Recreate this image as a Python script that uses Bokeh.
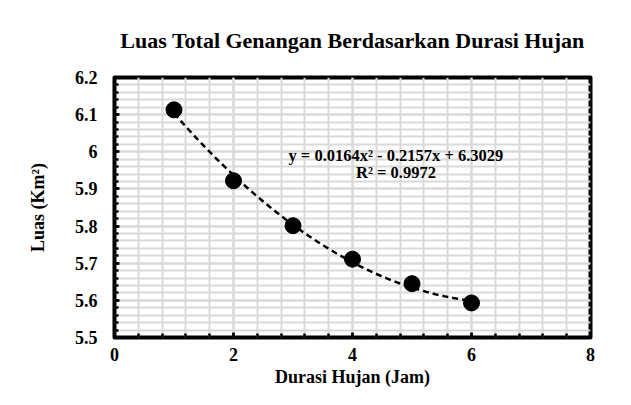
import numpy as np
from bokeh.plotting import figure
from bokeh.models import FixedTicker, Label
from bokeh.embed import file_html
from bokeh.resources import INLINE

# Data
durasi = [1, 2, 3, 4, 5, 6]
luas = [6.113, 5.922, 5.801, 5.711, 5.645, 5.593]
# Excel polynomial trendline (order 2) coefficients from the label
coef = [0.0164, -0.2157, 6.3029]
eq_text = "y = 0.0164x\u00b2 - 0.2157x + 6.3029"
r2_text = "R\u00b2 = 0.9972"

x_ticks = [0, 2, 4, 6, 8]
y_ticks = [5.5, 5.6, 5.7, 5.8, 5.9, 6.0, 6.1, 6.2]
y_tick_labels = ["5.5", "5.6", "5.7", "5.8", "5.9", "6", "6.1", "6.2"]
x_title = "Durasi Hujan (Jam)"
y_title = "Luas (Km\u00b2)"

FONT = "Liberation Serif"

p = figure(width=615, height=389, output_backend="svg", toolbar_location=None,
           x_range=(0, 8), y_range=(5.5, 6.2),
           min_border_left=114, min_border_right=25, min_border_top=77, min_border_bottom=50)

p.title.text = "Luas Total Genangan Berdasarkan Durasi Hujan"
p.title.align = "center"
p.title.text_font = FONT
p.title.text_font_size = "22px"
p.title.text_font_style = "bold"
p.title.text_color = "black"
p.title.standoff = 50

p.outline_line_color = "black"
p.outline_line_width = 4
p.outline_line_join = "round"
p.background_fill_color = "white"
p.border_fill_color = "white"

x_minor = [round(v, 3) for v in np.arange(0, 8.001, 0.4)]
y_minor = [round(v, 3) for v in np.arange(5.5, 6.2001, 0.02)]
p.xaxis.ticker = FixedTicker(ticks=x_ticks, minor_ticks=x_minor)
p.yaxis.ticker = FixedTicker(ticks=y_ticks, minor_ticks=y_minor)
p.yaxis.major_label_overrides = dict(zip(y_ticks, y_tick_labels))

for ax in (p.xaxis, p.yaxis):
    ax.axis_line_color = None
    ax.major_tick_in = 5
    ax.major_tick_out = 0
    ax.minor_tick_in = 4
    ax.minor_tick_out = 0
    ax.major_tick_line_width = 2.5
    ax.minor_tick_line_width = 2.5
    ax.major_tick_line_color = "black"
    ax.minor_tick_line_color = "black"
    ax.major_label_text_font = FONT
    ax.major_label_text_font_style = "bold"
    ax.major_label_text_font_size = "18px"
    ax.major_label_text_color = "black"
    ax.axis_label_text_font = FONT
    ax.axis_label_text_font_style = "bold"
    ax.axis_label_text_font_size = "18px"
    ax.axis_label_text_color = "black"

p.xaxis.axis_label = x_title
p.yaxis.axis_label = y_title
p.xaxis.major_label_standoff = 10
p.yaxis.major_label_standoff = 17
p.xaxis.axis_label_standoff = 3
p.yaxis.axis_label_standoff = 24

for g in (p.xgrid, p.ygrid):
    g.grid_line_color = "#d9d9d9"
    g.grid_line_width = 2
    g.minor_grid_line_color = "#d9d9d9"
    g.minor_grid_line_width = 2

# Trendline from the fitted polynomial
xs = np.linspace(min(durasi), max(durasi), 100)
ys = np.polyval(coef, xs)
p.line(xs, ys, line_color="black", line_width=2.5, line_dash="6 4")

p.scatter(durasi, luas, size=16, marker="circle", fill_color="black", line_color="black")

p.add_layout(Label(x=4.73, y=5.991, text=eq_text, text_align="center", text_baseline="middle",
                   text_font=FONT, text_font_style="bold", text_font_size="16.5px",
                   text_color="black"))
p.add_layout(Label(x=4.73, y=5.943, text=r2_text, text_align="center", text_baseline="middle",
                   text_font=FONT, text_font_style="bold", text_font_size="16.5px",
                   text_color="black"))

open("out.html", "w").write(file_html(p, INLINE))
